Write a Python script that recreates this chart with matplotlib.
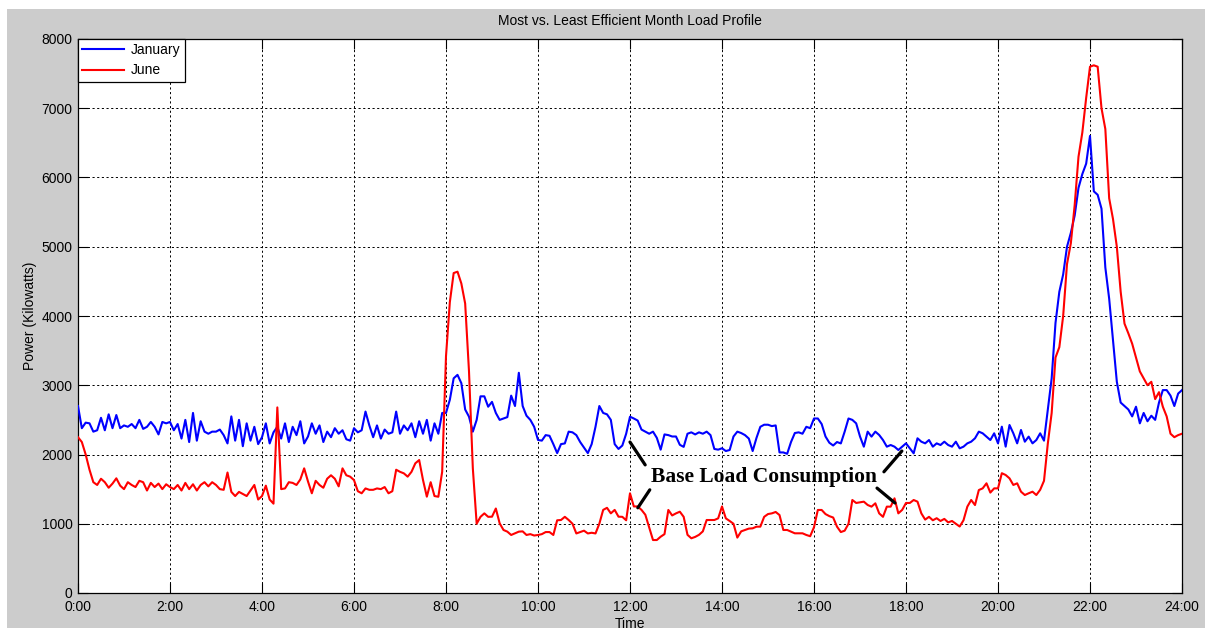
import numpy as np
import matplotlib
matplotlib.use('Agg')
import matplotlib.pyplot as plt
from matplotlib.patches import Rectangle

# ---- data (kW, 5-minute samples from 0:00 to 24:00) ----
sample_minutes = 5
january_kw = [
    # 0h
    2700, 2380, 2460, 2450, 2330, 2350, 2530, 2350, 2580, 2380, 2570, 2380,
    # 1h
    2420, 2400, 2440, 2380, 2500, 2370, 2400, 2470, 2400, 2290, 2470, 2450,
    # 2h
    2470, 2350, 2440, 2230, 2500, 2180, 2600, 2200, 2480, 2330, 2300, 2330,
    # 3h
    2330, 2360, 2280, 2160, 2550, 2200, 2500, 2120, 2450, 2200, 2400, 2150,
    # 4h
    2250, 2450, 2160, 2320, 2400, 2230, 2450, 2180, 2400, 2280, 2480, 2160,
    # 5h
    2260, 2450, 2300, 2420, 2180, 2330, 2250, 2380, 2300, 2350, 2220, 2200,
    # 6h
    2380, 2320, 2350, 2620, 2420, 2250, 2420, 2230, 2360, 2300, 2320, 2620,
    # 7h
    2300, 2420, 2350, 2450, 2250, 2480, 2300, 2500, 2200, 2450, 2300, 2600,
    # 8h
    2600, 2790, 3100, 3150, 3030, 2650, 2546, 2330, 2500, 2840, 2840, 2690,
    # 9h
    2760, 2600, 2500, 2520, 2540, 2850, 2700, 3180, 2700, 2560, 2500, 2400,
    # 10h
    2210, 2200, 2280, 2270, 2150, 2020, 2150, 2160, 2330, 2320, 2280, 2180,
    # 11h
    2100, 2020, 2150, 2400, 2700, 2600, 2580, 2500, 2150, 2080, 2130, 2300,
    # 12h
    2546, 2520, 2490, 2360, 2330, 2300, 2330, 2240, 2070, 2290, 2280, 2260,
    # 13h
    2260, 2140, 2110, 2300, 2320, 2290, 2320, 2300, 2330, 2280, 2080, 2070,
    # 14h
    2090, 2050, 2065, 2260, 2330, 2310, 2280, 2230, 2050, 2240, 2400, 2430,
    # 15h
    2430, 2410, 2420, 2030, 2030, 2010, 2180, 2310, 2320, 2300, 2400, 2380,
    # 16h
    2520, 2520, 2440, 2260, 2170, 2130, 2180, 2160, 2330, 2520, 2500, 2450,
    # 17h
    2260, 2113, 2330, 2258, 2330, 2282, 2209, 2113, 2137, 2113, 2065, 2113,
    # 18h
    2161, 2089, 2017, 2234, 2185, 2161, 2209, 2113, 2161, 2137, 2185, 2137,
    # 19h
    2113, 2185, 2089, 2113, 2161, 2185, 2234, 2330, 2306, 2258, 2209, 2306,
    # 20h
    2161, 2402, 2113, 2426, 2306, 2161, 2354, 2185, 2258, 2161, 2209, 2306,
    # 21h
    2200, 2650, 3100, 3900, 4350, 4600, 5000, 5200, 5450, 5850, 6050, 6200,
    # 22h
    6600, 5800, 5750, 5550, 4700, 4250, 3650, 3050, 2750, 2700, 2650, 2550,
    # 23h
    2690, 2450, 2600, 2480, 2560, 2500, 2750, 2930, 2930, 2850, 2700, 2880,
    # 24:00
    2930,
]
june_kw = [
    # 0h
    2250, 2180, 2000, 1780, 1600, 1560, 1650, 1600, 1520, 1580, 1656, 1550,
    # 1h
    1500, 1600, 1560, 1530, 1620, 1600, 1480, 1590, 1530, 1580, 1500, 1570,
    # 2h
    1530, 1500, 1560, 1480, 1590, 1500, 1570, 1480, 1560, 1600, 1540, 1600,
    # 3h
    1560, 1500, 1490, 1740, 1460, 1400, 1460, 1430, 1400, 1480, 1560, 1350,
    # 4h
    1400, 1550, 1350, 1290, 2680, 1500, 1510, 1600, 1590, 1560, 1640, 1800,
    # 5h
    1610, 1440, 1620, 1560, 1520, 1650, 1700, 1650, 1540, 1800, 1700, 1680,
    # 6h
    1630, 1470, 1440, 1510, 1490, 1490, 1510, 1500, 1530, 1440, 1470, 1780,
    # 7h
    1750, 1728, 1680, 1750, 1873, 1920, 1632, 1391, 1600, 1400, 1390, 1750,
    # 8h
    3420, 4200, 4620, 4640, 4470, 4180, 3200, 1800, 1000, 1100, 1150, 1100,
    # 9h
    1102, 1220, 1006, 910, 886, 838, 862, 886, 890, 838, 850, 830,
    # 10h
    838, 850, 880, 880, 838, 1050, 1054, 1100, 1054, 1000, 860, 880,
    # 11h
    900, 860, 870, 860, 1000, 1200, 1230, 1150, 1200, 1102, 1100, 1050,
    # 12h
    1440, 1250, 1250, 1200, 1130, 950, 765, 765, 813, 850, 1199, 1120,
    # 13h
    1150, 1174, 1100, 840, 790, 810, 840, 890, 1054, 1054, 1054, 1078,
    # 14h
    1250, 1078, 1040, 1000, 800, 890, 910, 930, 934, 958, 958, 1100,
    # 15h
    1140, 1150, 1170, 1126, 910, 910, 886, 862, 862, 862, 838, 820,
    # 16h
    950, 1199, 1199, 1140, 1110, 1090, 958, 880, 900, 1000, 1343, 1300,
    # 17h
    1310, 1319, 1271, 1247, 1295, 1150, 1100, 1247, 1247, 1367, 1150, 1200,
    # 18h
    1300, 1300, 1343, 1319, 1150, 1060, 1100, 1050, 1080, 1040, 1070, 1020,
    # 19h
    1040, 1000, 960, 1050, 1247, 1343, 1270, 1487, 1511, 1584, 1450, 1511,
    # 20h
    1511, 1730, 1704, 1656, 1560, 1584, 1463, 1415, 1440, 1463, 1415, 1490,
    # 21h
    1620, 2160, 2600, 3400, 3550, 4000, 4750, 5050, 5600, 6300, 6650, 7150,
    # 22h
    7600, 7620, 7600, 7000, 6700, 5700, 5400, 5000, 4350, 3890, 3750, 3600,
    # 23h
    3400, 3200, 3100, 3000, 3050, 2800, 2900, 2690, 2550, 2300, 2250, 2280,
    # 24:00
    2300,
]
series_names = ['January', 'June']
series_colors = ['#0000ff', '#ff0000']
x_tick_hours = [0, 2, 4, 6, 8, 10, 12, 14, 16, 18, 20, 22, 24]
x_tick_labels = ['0:00', '2:00', '4:00', '6:00', '8:00', '10:00', '12:00',
                 '14:00', '16:00', '18:00', '20:00', '22:00', '24:00']
y_ticks = [0, 1000, 2000, 3000, 4000, 5000, 6000, 7000, 8000]
annotation_text = 'Base Load Consumption'

# ---- figure ----
plt.rcParams['font.family'] = ['Liberation Sans', 'DejaVu Sans']
W, H = 1205, 633
fig = plt.figure(figsize=(W / 100, H / 100), dpi=100, facecolor='white')
fig.patches.append(Rectangle((7 / W, 5 / H), 1 - 7 / W, (628 - 9) / H,
                             transform=fig.transFigure, facecolor='#cccccc',
                             edgecolor='none', zorder=-10))

ax = fig.add_axes([78 / W, 1 - 593 / H, (1182 - 78) / W, (593 - 39) / H])
ax.set_facecolor('white')

hours = np.arange(len(january_kw)) * sample_minutes / 60.0
for vals, name, col in zip([january_kw, june_kw], series_names, series_colors):
    ax.plot(hours, vals, color=col, lw=1.5, label=name, zorder=3)

ax.set_xlim(0, 24)
ax.set_ylim(0, 8000)
ax.set_xticks(x_tick_hours)
ax.set_xticklabels(x_tick_labels)
ax.set_yticks(y_ticks)
ax.set_yticklabels([str(v) for v in y_ticks])
ax.tick_params(direction='in', length=7, width=0.8, top=True, right=True,
               labelsize=10, colors='k')
ax.tick_params(axis='x', pad=5)
ax.tick_params(axis='y', pad=4)
ax.grid(True, color='k', linestyle=(0, (2.2, 2.6)), lw=0.7)
ax.set_axisbelow(True)
for s in ax.spines.values():
    s.set_linewidth(0.9)
    s.set_color('k')

ax.set_title('Most vs. Least Efficient Month Load Profile', fontsize=10, pad=10)
ax.set_xlabel('Time', fontsize=10, labelpad=2)
ax.set_ylabel('Power (Kilowatts)', fontsize=10, labelpad=3)

leg = ax.legend(loc='upper left', fontsize=10, fancybox=False, framealpha=1,
                edgecolor='k', borderaxespad=0, handlelength=3.0,
                handletextpad=0.5, labelspacing=0.45, borderpad=0.3)
leg.get_frame().set_linewidth(0.9)

# annotation
ax.text(14.91, 1675, annotation_text, ha='center', va='center',
        fontsize=15.5, fontweight='bold', family='Liberation Serif', zorder=5)
arrow_pairs = [((12.33, 1850), (12.0, 2180)),
               ((12.43, 1490), (12.17, 1230)),
               ((17.52, 1750), (17.91, 2050)),
               ((17.37, 1515), (17.76, 1300))]
for start, end in arrow_pairs:
    ax.annotate('', xy=end, xytext=start,
                arrowprops=dict(arrowstyle='-', lw=2.3, color='k',
                                shrinkA=0, shrinkB=0), zorder=5)

fig.savefig('out.png', dpi=100, facecolor=fig.get_facecolor())
